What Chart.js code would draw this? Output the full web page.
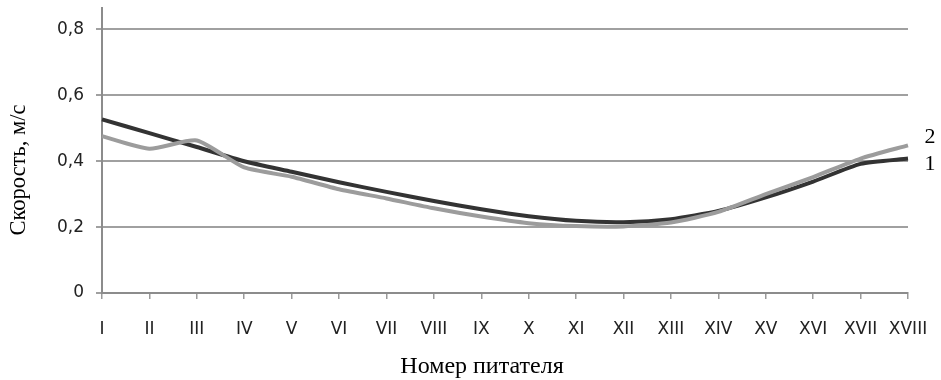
<!DOCTYPE html>
<html>
<head>
<meta charset="utf-8">
<script src="https://cdn.jsdelivr.net/npm/chart.js@4/dist/chart.umd.min.js"></script>
<style>
  html, body { margin: 0; padding: 0; background: #fff; }
  #wrap { width: 941px; height: 380px; position: relative; }
</style>
</head>
<body>
<div id="wrap"><canvas id="chart"></canvas></div>
<script>
var categories = ['I', 'II', 'III', 'IV', 'V', 'VI', 'VII', 'VIII', 'IX', 'X',
  'XI', 'XII', 'XIII', 'XIV', 'XV', 'XVI', 'XVII', 'XVIII'];
var series1 = [0.527, 0.485, 0.443, 0.400, 0.368, 0.336, 0.307, 0.279, 0.254,
  0.233, 0.219, 0.215, 0.224, 0.249, 0.290, 0.338, 0.392, 0.408];
var series2 = [0.476, 0.438, 0.463, 0.381, 0.353, 0.315, 0.287, 0.257, 0.232,
  0.212, 0.203, 0.202, 0.214, 0.246, 0.300, 0.352, 0.408, 0.448];
var seriesNames = ['1', '2'];
var yTicks = [0, 0.2, 0.4, 0.6, 0.8];
var yTickLabels = ['0', '0,2', '0,4', '0,6', '0,8'];
var yTitle = 'Скорость, м/с';
var xTitle = 'Номер питателя';

(function () {
  'use strict';

  var serif = '"Liberation Serif", "Times New Roman", serif';

  // axis titles and line names, placed like the original
  var labelsPlugin = {
    id: 'labels',
    afterDraw: function (chart) {
      var ctx = chart.ctx;
      var xs = chart.scales.x;
      var ys = chart.scales.y;
      var last = categories.length - 1;
      ctx.save();
      ctx.fillStyle = '#000';
      ctx.textAlign = 'center';
      ctx.textBaseline = 'middle';
      ctx.font = '22px ' + serif;
      var x = xs.getPixelForValue(last) + 22;
      ctx.fillText(seriesNames[1], x, ys.getPixelForValue(series2[last]) - 8);
      ctx.fillText(seriesNames[0], x, ys.getPixelForValue(series1[last]) + 6);
      ctx.font = '24px ' + serif;
      ctx.fillText(xTitle, 482, 367);
      ctx.translate(19, 170);
      ctx.rotate(-Math.PI / 2);
      ctx.font = '22.5px ' + serif;
      ctx.fillText(yTitle, 0, 0);
      ctx.restore();
    },
  };

  new Chart(document.getElementById('chart').getContext('2d'), {
    type: 'line',
    data: {
      labels: categories,
      datasets: [
        {
          label: seriesNames[0],
          data: series1,
          borderColor: '#333333',
          borderWidth: 4,
          pointRadius: 0,
          tension: 0.2,
          order: 1,
        },
        {
          label: seriesNames[1],
          data: series2,
          borderColor: '#9c9c9c',
          borderWidth: 4,
          pointRadius: 0,
          tension: 0.2,
          order: 0,
        },
      ],
    },
    options: {
      responsive: true,
      maintainAspectRatio: false,
      animation: false,
      layout: { padding: { top: 8, right: 33, left: 0, bottom: 0 } },
      plugins: {
        legend: { display: false },
        tooltip: { enabled: false },
      },
      scales: {
        x: {
          offset: false,
          afterFit: function (s) {
            s.height = 87;
            s.paddingLeft = 0;
            s.paddingRight = 0;
          },
          border: { color: '#8c8c8c', width: 2 },
          grid: { drawOnChartArea: false, tickLength: 6, color: '#9a9a9a', lineWidth: 1.5 },
          ticks: {
            autoSkip: false,
            maxRotation: 0,
            padding: 20,
            color: '#222',
            font: { family: '"DejaVu Sans", sans-serif', size: 17 },
          },
        },
        y: {
          min: 0,
          max: 0.865,
          afterFit: function (s) {
            s.width = 102;
            s.paddingTop = 0;
            s.paddingBottom = 0;
          },
          afterBuildTicks: function (s) {
            s.ticks = yTicks.map(function (v) { return { value: v }; });
          },
          border: { color: '#8c8c8c', width: 2 },
          grid: { color: '#a0a0a0', lineWidth: 2, tickLength: 6 },
          ticks: {
            padding: 12,
            color: '#222',
            font: { family: '"DejaVu Sans", sans-serif', size: 17 },
            callback: function (value) {
              var i = yTicks.indexOf(value);
              return i >= 0 ? yTickLabels[i] : '';
            },
          },
        },
      },
    },
    plugins: [labelsPlugin],
  });
})();
</script>
</body>
</html>
